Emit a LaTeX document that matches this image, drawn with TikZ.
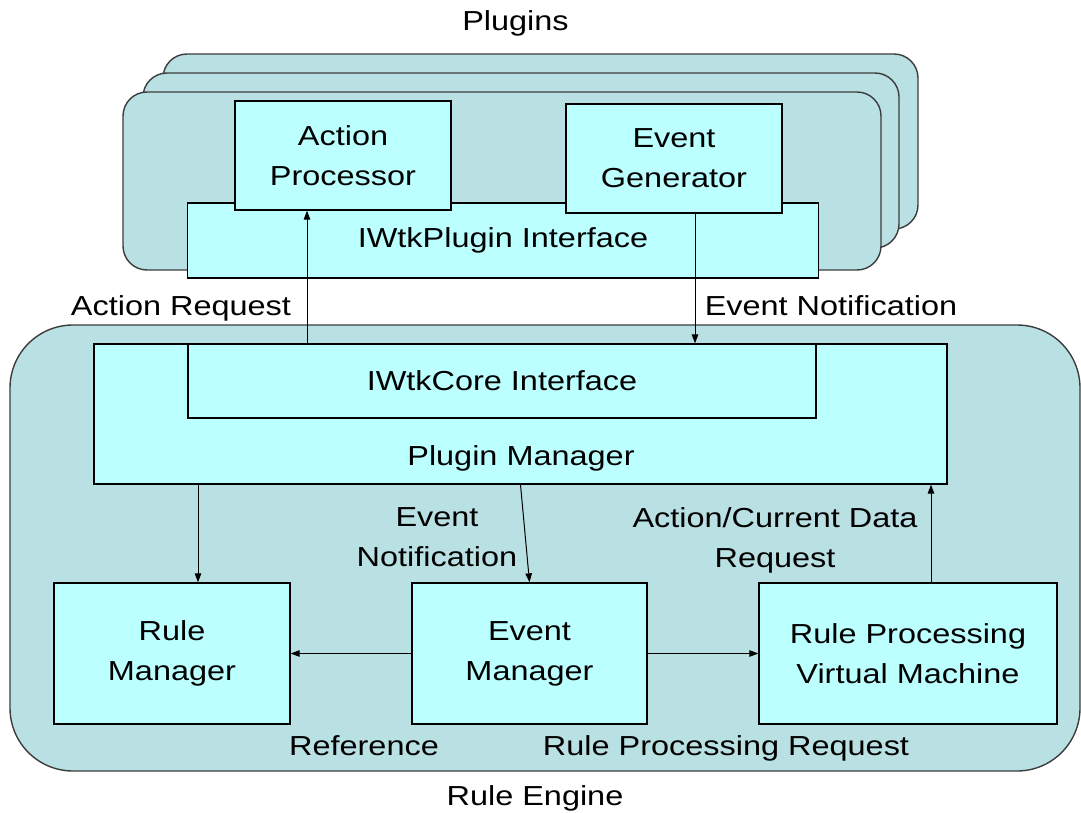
\documentclass[tikz,border=0pt]{standalone}
\usepackage{fontspec}
\setmainfont{Liberation Sans}[FakeStretch=1.18]
\usetikzlibrary{arrows.meta}
\definecolor{platefill}{RGB}{185,224,227}
\definecolor{boxfill}{RGB}{187,255,255}
\definecolor{plateline}{RGB}{60,60,60}
\begin{document}
\begin{tikzpicture}[x=1pt,y=-1pt,
  txt/.style={font=\fontsize{27.5}{40}\selectfont, inner sep=0pt, align=center},
  plate/.style={draw=plateline, line width=1.4pt, fill=platefill, inner sep=0pt},
  box/.style={txt, draw=black, line width=1.3pt, fill=boxfill},
  arr/.style={line width=1pt, -{Triangle[length=9pt,width=6.5pt]}}
]
\useasboundingbox (0,0) rectangle (1081,813);

% Plugins stack
\node[plate, rounded corners=24pt, minimum width=755pt, minimum height=175pt] (back) at (540.5,141.5) {};
\node[plate, rounded corners=24pt, minimum width=756pt, minimum height=175pt] (middle) at (521,160.5) {};
\node[plate, rounded corners=24pt, minimum width=758pt, minimum height=178pt] (front) at (502,181) {};
\node[txt, anchor=base] (plugins) at (515.5,31) {Plugins};

\node[box, minimum width=631pt, minimum height=75pt] (pif) at (503,240.5) {\raisebox{-3pt}{IWtkPlugin Interface}};
\node[box, minimum width=216pt, minimum height=109pt] (ap) at (343,155.5) {Action\\Processor};
\node[box, minimum width=216pt, minimum height=109pt] (eg) at (674,158.5) {Event\\Generator};

% Rule engine
\node[plate, rounded corners=63pt, minimum width=1070pt, minimum height=446pt] (re) at (545,548) {};
\node[txt, anchor=base] (relabel) at (535,805) {Rule Engine};

\node[box, minimum width=853pt, minimum height=140pt] (pm) at (520.5,414) {};
\node[txt, anchor=base] (pmlabel) at (521,465) {Plugin Manager};
\node[box, minimum width=628pt, minimum height=74pt] (core) at (502,381) {IWtkCore Interface};

\node[box, minimum width=236pt, minimum height=141pt] (rm) at (172,653.5) {Rule\\Manager};
\node[box, minimum width=235pt, minimum height=141pt] (em) at (529.5,653.5) {Event\\Manager};
\node[box, minimum width=298pt, minimum height=141pt] (vm) at (908,653.5) {Rule Processing\\Virtual Machine};

% connector x positions
\coordinate (xar) at (307,0);
\coordinate (xen) at (695,0);
\coordinate (xrm) at (198,0);
\coordinate (xvm) at (931,0);

\draw[arr] (xar |- core.north) -- (xar |- ap.south);
\draw[arr] (xen |- eg.south) -- (xen |- core.north);
\draw[arr] (xrm |- pm.south) -- (xrm |- rm.north);
\draw[arr] (pm.south) -- (em.north);
\draw[arr] (xvm |- vm.north) -- (xvm |- pm.south);
\draw[arr] (em.west) -- (rm.east);
\draw[arr] (em.east) -- (vm.west);

% labels
\node[txt, anchor=base] (lar) at (181,315) {Action Request};
\node[txt, anchor=base] (len) at (831,315) {Event Notification};
\node[txt] (len2) at (437,537) {Event\\Notification};
\node[txt] (lacd) at (775,540) {Action/Current Data\\Request};
\node[txt, anchor=base] (lref) at (364,755) {Reference};
\node[txt, anchor=base] (lrpr) at (726,755) {Rule Processing Request};
\end{tikzpicture}
\end{document}
